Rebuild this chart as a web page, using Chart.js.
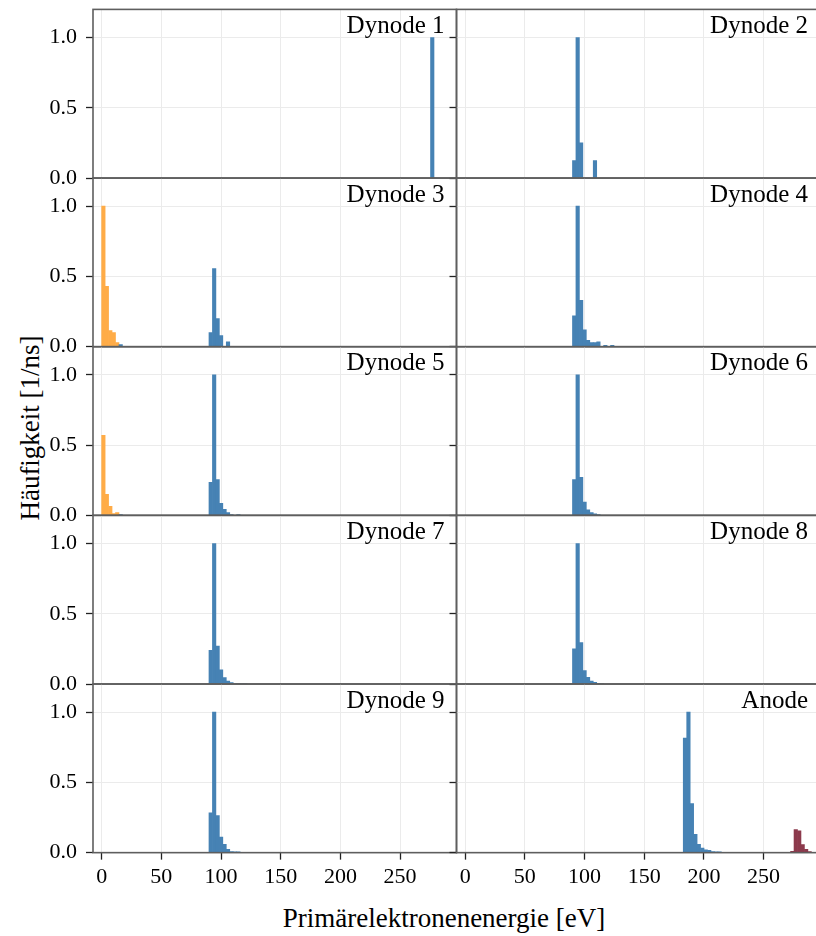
<!DOCTYPE html>
<html>
<head>
<meta charset="utf-8">
<script src="https://cdn.jsdelivr.net/npm/chart.js@4/dist/chart.umd.min.js"></script>
<style>
  html, body { margin: 0; padding: 0; background: #fff; }
  #fig { position: relative; width: 816px; height: 936px; overflow: hidden; font-family: "Liberation Serif", serif; color: #000; }
  #fig canvas { position: absolute; }
  .lbl { position: absolute; font-size: 27px; line-height: 27px; white-space: nowrap; }
  #xlab { left: 444px; top: 905px; transform: translateX(-50%); }
  #ylab { left: 30px; top: 428px; transform: translate(-50%, -50%) rotate(-90deg); }
</style>
</head>
<body>
<div id="fig">
  <div class="lbl" id="ylab">Häufigkeit [1/ns]</div>
  <div class="lbl" id="xlab">Primärelektronenenergie [eV]</div>
</div>
<script>
const binWidth = 2.9;
const panelNames = ["Dynode 1", "Dynode 2", "Dynode 3", "Dynode 4", "Dynode 5",
                    "Dynode 6", "Dynode 7", "Dynode 8", "Dynode 9", "Anode"];
const xTicks = [0, 50, 100, 150, 200, 250];
const yTicks = [0, 0.5, 1.0];
const xRange = [-7.25, 297.25];
const yRange = [0, 1.2];

// bin left edges (eV) and heights (1/ns), one entry per panel
const blueEdges = [
  [275.5],
  [89.9, 92.8, 95.7, 107.3],
  [14.5, 89.9, 92.8, 95.7, 98.6, 104.4],
  [89.9, 92.8, 95.7, 98.6, 101.5, 104.4, 107.3, 110.2, 116.0, 121.8],
  [14.5, 89.9, 92.8, 95.7, 98.6, 101.5, 104.4, 107.3, 113.1],
  [89.9, 92.8, 95.7, 98.6, 101.5, 104.4, 107.3, 110.2],
  [89.9, 92.8, 95.7, 98.6, 101.5, 104.4, 107.3, 110.2, 113.1, 116.0, 118.9],
  [89.9, 92.8, 95.7, 98.6, 101.5, 104.4, 107.3, 110.2, 113.1],
  [89.9, 92.8, 95.7, 98.6, 101.5, 104.4, 107.3, 110.2, 113.1],
  [182.7, 185.6, 188.5, 191.4, 194.3, 197.2, 200.1, 203.0, 205.9, 208.8, 211.7],
];
const blueHeights = [
  [1.0],
  [0.125, 1.0, 0.25, 0.125],
  [0.015, 0.10, 0.555, 0.20, 0.08, 0.035],
  [0.22, 1.0, 0.33, 0.12, 0.045, 0.03, 0.03, 0.035, 0.01, 0.01],
  [0.005, 0.235, 1.0, 0.255, 0.085, 0.043, 0.02, 0.006, 0.006],
  [0.255, 1.0, 0.27, 0.095, 0.04, 0.02, 0.01, 0.005],
  [0.24, 1.0, 0.27, 0.10, 0.045, 0.02, 0.01, 0.005, 0.005, 0.003, 0.003],
  [0.25, 1.0, 0.295, 0.095, 0.048, 0.02, 0.012, 0.004, 0.004],
  [0.283, 1.0, 0.264, 0.111, 0.06, 0.024, 0.007, 0.005, 0.005],
  [0.815, 1.0, 0.35, 0.13, 0.06, 0.033, 0.02, 0.017, 0.007, 0.005, 0.005],
];
const orangeEdges = [[], [], [0, 2.9, 5.8, 8.7, 11.6], [], [0, 2.9, 5.8, 8.7, 11.6], [], [], [], [], []];
const orangeHeights = [[], [], [1.0, 0.43, 0.115, 0.10, 0.03], [], [0.57, 0.15, 0.065, 0.012, 0.02], [], [], [], [], []];
const redEdges = [[], [], [], [], [], [], [], [], [], [272.6, 275.5, 278.4, 281.3, 284.2, 287.1]];
const redHeights = [[], [], [], [], [], [], [], [], [], [0.01, 0.165, 0.155, 0.057, 0.024, 0.008]];

// layout of the 5x2 grid of panels
const PLOT_L = [93, 456.5];
const PLOT_T = 9.4;
const PLOT_W = 363.5;
const PLOT_H = 168.65;

const BLUE = "#4682b4";
const ORANGE = "#ffac47";
const RED = "#8c3a4c";
const GRID = "#ebebeb";
const SPINE = "#5e5e5e";

Chart.defaults.font.family = '"Liberation Serif", serif';
Chart.defaults.font.size = 22;
Chart.defaults.color = "#000";

const panelFrame = {
  id: "panelFrame",
  afterDatasetsDraw(chart, args, opts) {
    const { ctx, chartArea } = chart;
    ctx.save();
    ctx.strokeStyle = SPINE;
    ctx.lineWidth = 1.6;
    ctx.strokeRect(chartArea.left, chartArea.top, chartArea.width, chartArea.height);
    ctx.font = '25px "Liberation Serif"';
    ctx.fillStyle = "#000";
    ctx.textAlign = "right";
    ctx.textBaseline = "alphabetic";
    ctx.fillText(opts.text, chartArea.right - 12, chartArea.top + 23.5);
    ctx.restore();
  },
};

function series(edges, heights, color) {
  return {
    data: edges.map((e, k) => ({ x: e + binWidth / 2, y: heights[k] })),
    backgroundColor: color,
    borderWidth: 0,
    grouped: false,
    barThickness: binWidth * PLOT_W / (xRange[1] - xRange[0]),
  };
}

const fig = document.getElementById("fig");

panelNames.forEach((name, i) => {
  const r = Math.floor(i / 2), c = i % 2;
  const top = PLOT_T + r * PLOT_H;
  const left = PLOT_L[c];
  const yAxisW = c === 0 ? 93 : 8;
  const isBottom = r === 4;
  const xAxisH = isBottom ? 42 : 0;

  const cvLeft = Math.floor(left - yAxisW);
  const padLeft = left - yAxisW - cvLeft;
  const cvTop = Math.floor(top) - 3;
  const padTop = top - cvTop;
  const cvW = Math.ceil(left - cvLeft + PLOT_W + 3);
  const padRight = cvW - (left - cvLeft) - PLOT_W;
  const cvH = Math.ceil(padTop + PLOT_H + xAxisH + 14);
  const padBottom = cvH - padTop - PLOT_H - xAxisH;

  const canvas = document.createElement("canvas");
  canvas.width = cvW;
  canvas.height = cvH;
  canvas.style.left = cvLeft + "px";
  canvas.style.top = cvTop + "px";
  canvas.style.width = cvW + "px";
  canvas.style.height = cvH + "px";
  fig.appendChild(canvas);

  const datasets = [series(blueEdges[i], blueHeights[i], BLUE)];
  if (orangeEdges[i].length) datasets.push(series(orangeEdges[i], orangeHeights[i], ORANGE));
  if (redEdges[i].length) datasets.push(series(redEdges[i], redHeights[i], RED));

  new Chart(canvas, {
    type: "bar",
    data: { datasets },
    plugins: [panelFrame],
    options: {
      responsive: false,
      animation: false,
      events: [],
      layout: { padding: { left: padLeft, top: padTop, right: padRight, bottom: padBottom } },
      plugins: {
        legend: { display: false },
        tooltip: { enabled: false },
        panelFrame: { text: name },
      },
      scales: {
        x: {
          type: "linear",
          min: xRange[0],
          max: xRange[1],
          offset: false,
          border: { display: false },
          grid: {
            color: GRID,
            lineWidth: 1,
            offset: false,
            drawTicks: isBottom,
            tickLength: 7,
            tickColor: "#222",
            tickWidth: 1.3,
          },
          ticks: {
            display: isBottom,
            padding: 4,
            autoSkip: false,
            maxRotation: 0,
            font: { size: 22 },
            callback: (v) => String(v),
          },
          afterBuildTicks: (axis) => { axis.ticks = xTicks.map((v) => ({ value: v })); },
          afterFit: (axis) => {
            axis.height = xAxisH;
            axis.paddingLeft = 0;
            axis.paddingRight = 0;
          },
        },
        y: {
          type: "linear",
          min: yRange[0],
          max: yRange[1],
          border: { display: false },
          grid: {
            color: GRID,
            lineWidth: 1,
            drawTicks: true,
            tickLength: 7,
            tickColor: "#222",
            tickWidth: 1.3,
          },
          ticks: {
            display: c === 0,
            padding: 9,
            font: { size: 22 },
            callback: (v) => Number(v).toFixed(1),
          },
          afterBuildTicks: (axis) => { axis.ticks = yTicks.map((v) => ({ value: v })); },
          afterFit: (axis) => {
            axis.width = yAxisW;
            axis.paddingTop = 0;
            axis.paddingBottom = 0;
          },
        },
      },
    },
  });
});
</script>
</body>
</html>
